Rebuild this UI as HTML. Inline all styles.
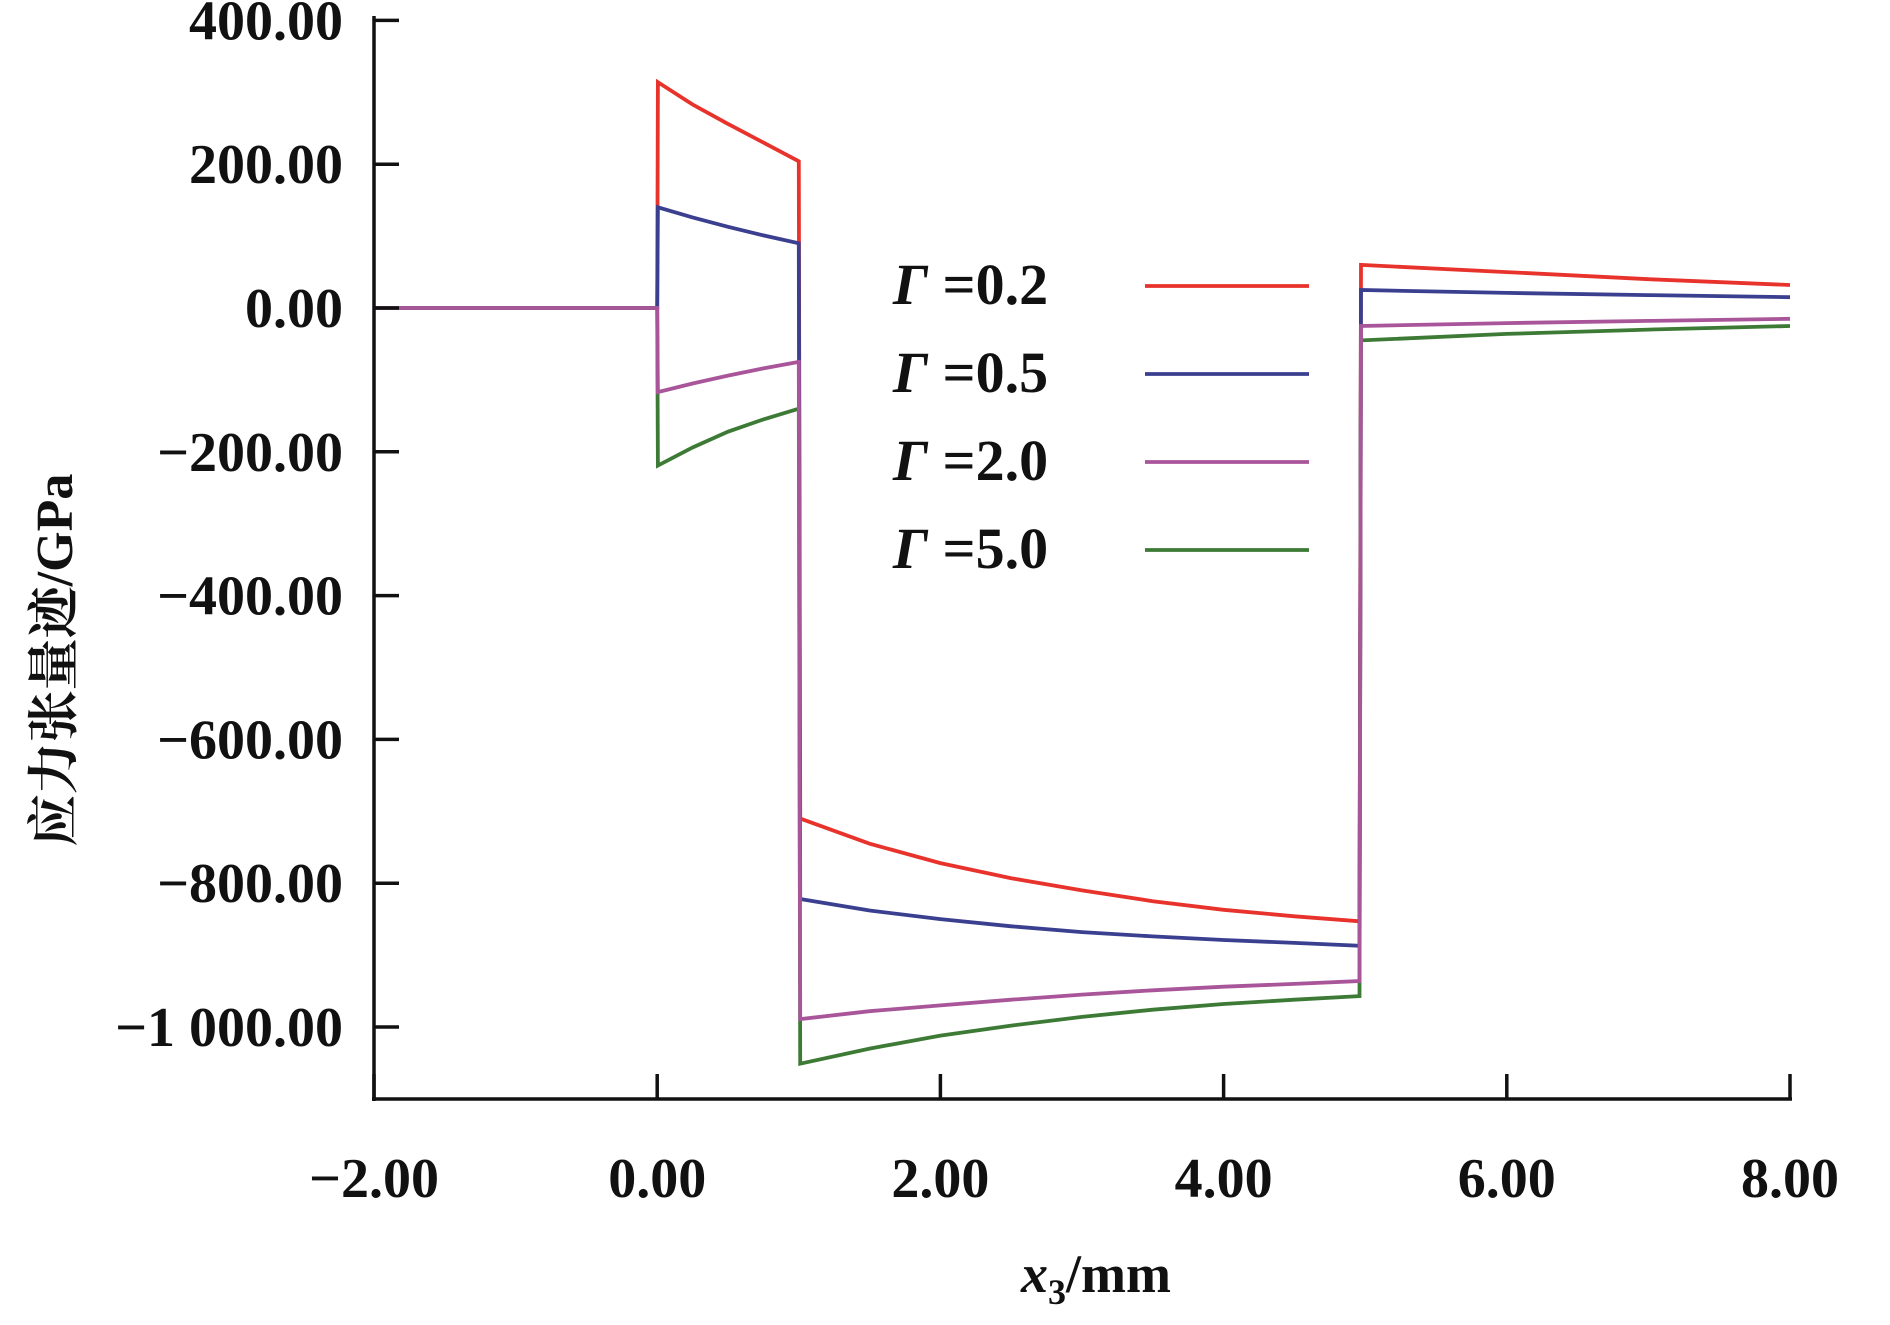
<!DOCTYPE html>
<html><head><meta charset="utf-8"><style>
html,body{margin:0;padding:0;background:#fff;}
svg text{font-family:"Liberation Serif","Noto Serif CJK SC",serif;fill:#111;font-weight:bold;}
</style></head><body>
<svg id="chart" width="1890" height="1320" viewBox="0 0 1890 1320" xmlns="http://www.w3.org/2000/svg"></svg>
<script>
const xTicks = [-2, 0, 2, 4, 6, 8];
const xTickLabels = ["\u22122.00", "0.00", "2.00", "4.00", "6.00", "8.00"];
const yTicks = [400, 200, 0, -200, -400, -600, -800, -1000];
const yTickLabels = ["400.00", "200.00", "0.00", "\u2212200.00", "\u2212400.00", "\u2212600.00", "\u2212800.00", "\u22121 000.00"];
const seriesNames = ["\u0393=0.2", "\u0393=0.5", "\u0393=2.0", "\u0393=5.0"];
const seriesColors = ["#e8322c", "#3b3f8f", "#a9559a", "#3d7a35"];
const xSeg0 = [-2, 0];
const xSeg1 = [0.005, 0.25, 0.5, 0.75, 1];
const xSeg2 = [1.01, 1.5, 2, 2.5, 3, 3.5, 4, 4.5, 4.96];
const xSeg3 = [4.97, 6, 7, 8];
const red1 = [314, 283, 256, 230, 204];
const red2 = [-710, -745, -772, -793, -810, -825, -837, -846, -853];
const red3 = [60, 50, 40, 32];
const blue1 = [140, 126, 113, 101, 90];
const blue2 = [-822, -838, -850, -860, -868, -874, -879, -883, -887];
const blue3 = [25, 21, 18, 15];
const pink1 = [-117, -105, -94, -84, -75];
const pink2 = [-989, -978, -970, -962, -955, -949, -944, -940, -936];
const pink3 = [-25, -21, -18, -15];
const green1 = [-219, -194, -172, -155, -140];
const green2 = [-1051, -1030, -1012, -998, -986, -976, -968, -962, -957];
const green3 = [-45, -36, -30, -25];

const NS = "http://www.w3.org/2000/svg";
const svg = document.getElementById("chart");
const X0 = 374, X1 = 1790, XMIN = -2, XMAX = 8;
const Y0 = 308, YPU = 0.719, AXY = 1099;
function sx(v){ return X0 + (v - XMIN) / (XMAX - XMIN) * (X1 - X0); }
function sy(v){ return Y0 - v * YPU; }
function mk(tag, attrs){ const e = document.createElementNS(NS, tag); for (const k in attrs) e.setAttribute(k, attrs[k]); svg.appendChild(e); return e; }

const allSeries = [[red1, red2, red3], [blue1, blue2, blue3], [pink1, pink2, pink3], [green1, green2, green3]];
const seriesKeys = ["gamma-0-2", "gamma-0-5", "gamma-2-0", "gamma-5-0"];
const drawOrder = [0, 1, 3, 2];
drawOrder.forEach(i => {
  const s = allSeries[i];
  const pts = [];
  xSeg0.forEach(x => pts.push([x, 0]));
  xSeg1.forEach((x, j) => pts.push([x, s[0][j]]));
  xSeg2.forEach((x, j) => pts.push([x, s[1][j]]));
  xSeg3.forEach((x, j) => pts.push([x, s[2][j]]));
  const p = mk("polyline", {points: pts.map(q => sx(q[0]).toFixed(1) + "," + sy(q[1]).toFixed(1)).join(" "), fill: "none", stroke: seriesColors[i], "stroke-width": 3.8, "stroke-linejoin": "miter"});
  
  
});

const ya = mk("line", {x1: X0, y1: 16, x2: X0, y2: AXY + 2, stroke: "#111", "stroke-width": 3.5});


const xa = mk("line", {x1: X0 - 2, y1: AXY, x2: X1 + 2, y2: AXY, stroke: "#111", "stroke-width": 3.5});



yTicks.forEach((v, i) => {
  const t = mk("line", {x1: X0, y1: sy(v), x2: X0 + 25, y2: sy(v), stroke: "#111", "stroke-width": 3.5});
  
  
  const l = mk("text", {x: 343, y: sy(v) + 19, "text-anchor": "end", "font-size": 56});
  l.textContent = yTickLabels[i];
  
  
});
xTicks.forEach((v, i) => {
  const t = mk("line", {x1: sx(v), y1: AXY, x2: sx(v), y2: AXY - 25, stroke: "#111", "stroke-width": 3.5});
  
  
  const l = mk("text", {x: sx(v), y: 1197, "text-anchor": "middle", "font-size": 56});
  l.textContent = xTickLabels[i];
  
  
});

const xt = mk("text", {x: 1096, y: 1292, "text-anchor": "middle", "font-size": 54});
xt.innerHTML = '<tspan font-style="italic">x</tspan><tspan font-size="36" dy="12">3</tspan><tspan dy="-12">/mm</tspan>';


const yt = mk("text", {x: 0, y: 0, "text-anchor": "middle", "font-size": 52, transform: "translate(72,660) rotate(-90)"});
yt.textContent = "应力张量迹/GPa";



const legY = [284, 372, 460, 548];
seriesNames.forEach((n, i) => {
  const g = mk("g", {});
  
  
  const tx = document.createElementNS(NS, "text");
  tx.setAttribute("x", 893); tx.setAttribute("y", legY[i] + 20); tx.setAttribute("font-size", 58);
  tx.innerHTML = '<tspan font-style="italic">\u0393</tspan> =' + n.slice(2);
  g.appendChild(tx);
  const ln = document.createElementNS(NS, "line");
  ln.setAttribute("x1", 1145); ln.setAttribute("x2", 1309); ln.setAttribute("y1", legY[i] + 2); ln.setAttribute("y2", legY[i] + 2);
  ln.setAttribute("stroke", seriesColors[i]); ln.setAttribute("stroke-width", 3.8);
  g.appendChild(ln);
});
</script>
</body></html>
